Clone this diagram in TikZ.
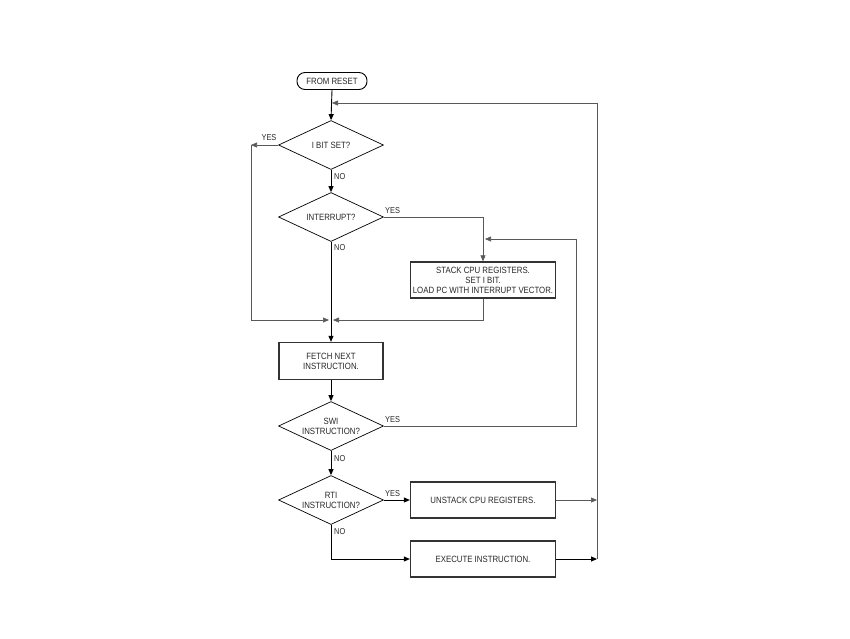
\documentclass[tikz,border=0pt]{standalone}
\usepackage{fontspec}
\setmainfont{Liberation Sans}[FakeStretch=0.86]
\usetikzlibrary{shapes.geometric,arrows.meta}
\begin{document}
\begin{tikzpicture}[x=1pt,y=-1pt,
  font=\fontsize{9.1}{10}\selectfont,
  every node/.style={text=black!85},
  tip/.style={-{Triangle[length=6pt,width=5pt]}},
  mainline/.style={draw=black, line width=0.9pt},
  thinline/.style={draw=black!65, line width=0.6pt},
  box/.style={rectangle, draw=black!80, line width=1.3pt, minimum width=145pt, minimum height=36pt, inner sep=0pt, align=center},
  smallbox/.style={box, minimum width=104pt, minimum height=37pt},
  dec/.style={diamond, draw=black, line width=0.7pt, aspect=2.14, inner sep=0pt, minimum width=105pt, minimum height=49pt, align=center},
  lbl/.style={inner sep=0pt, font=\fontsize{8.6}{9.4}\selectfont}]
\useasboundingbox (0,0) rectangle (850,638);

\node[rectangle, rounded corners=8pt, draw=black, line width=0.9pt, minimum width=70pt, minimum height=17pt, inner sep=0pt] (reset) at (332,81) {FROM RESET};
\node[dec] (d1) at (331,145) {I BIT SET?};
\node[dec] (d2) at (331,217) {INTERRUPT?};
\node[box] (stack) at (483,280) {STACK CPU REGISTERS.\\SET I BIT.\\LOAD PC WITH INTERRUPT VECTOR.};
\node[smallbox] (fetch) at (331,361) {FETCH NEXT\\INSTRUCTION.};
\node[dec] (d3) at (331,426) {SWI\\INSTRUCTION?};
\node[dec] (d4) at (331,500) {RTI\\INSTRUCTION?};
\node[box] (unstack) at (483,500) {UNSTACK CPU REGISTERS.};
\node[box] (exec) at (483,559) {EXECUTE INSTRUCTION.};

\coordinate (top) at (332,103);
\coordinate (yl) at (251,145);
\coordinate (yl2) at (251,320);
\coordinate (ml) at (329,320);
\coordinate (mr) at (333,320);
\coordinate (ic) at (483,217);
\coordinate (sb) at (483,320);
\coordinate (sw1) at (576,426);
\coordinate (sw2) at (576,239);
\coordinate (sw3) at (485,239);
\coordinate (r1) at (597,500);
\coordinate (r2) at (597,559);
\coordinate (r3) at (597,103);
\coordinate (nc) at (331,559);

% main flow
\draw[mainline,tip] (reset.south) -- (d1.north);
\draw[mainline,tip] (d1.south) -- (d2.north);
\draw[mainline,tip] (d2.south) -- (fetch.north);
\draw[mainline,tip] (fetch.south) -- (d3.north);
\draw[mainline,tip] (d3.south) -- (d4.north);
\draw[mainline,tip] (d4.east) -- (unstack.west);
\draw[mainline,tip] (d4.south) -- (nc) -- (exec.west);
\draw[mainline,tip] (exec.east) -- (r2);

% loops
\draw[thinline,tip] (d1.west) -- (yl);
\draw[thinline,tip] (yl) -- (yl2) -- (ml);
\draw[thinline,tip] (d2.east) -- (ic) -- (stack.north);
\draw[thinline,tip] (stack.south) -- (sb) -- (mr);
\draw[thinline,tip] (d3.east) -- (sw1) -- (sw2) -- (sw3);
\draw[thinline,tip] (unstack.east) -- (r1);
\draw[thinline,tip] (r2) -- (r3) -- (top);

% labels
\node[lbl] (y1) at (269,138) {YES};
\node[lbl,anchor=west] (n1) at (334,177) {NO};
\node[lbl,anchor=west] (y2) at (385,211) {YES};
\node[lbl,anchor=west] (n2) at (334,248) {NO};
\node[lbl,anchor=west] (y3) at (385,420) {YES};
\node[lbl,anchor=west] (n3) at (334,459) {NO};
\node[lbl,anchor=west] (y4) at (385,494) {YES};
\node[lbl,anchor=west] (n4) at (334,532) {NO};
\end{tikzpicture}
\end{document}
